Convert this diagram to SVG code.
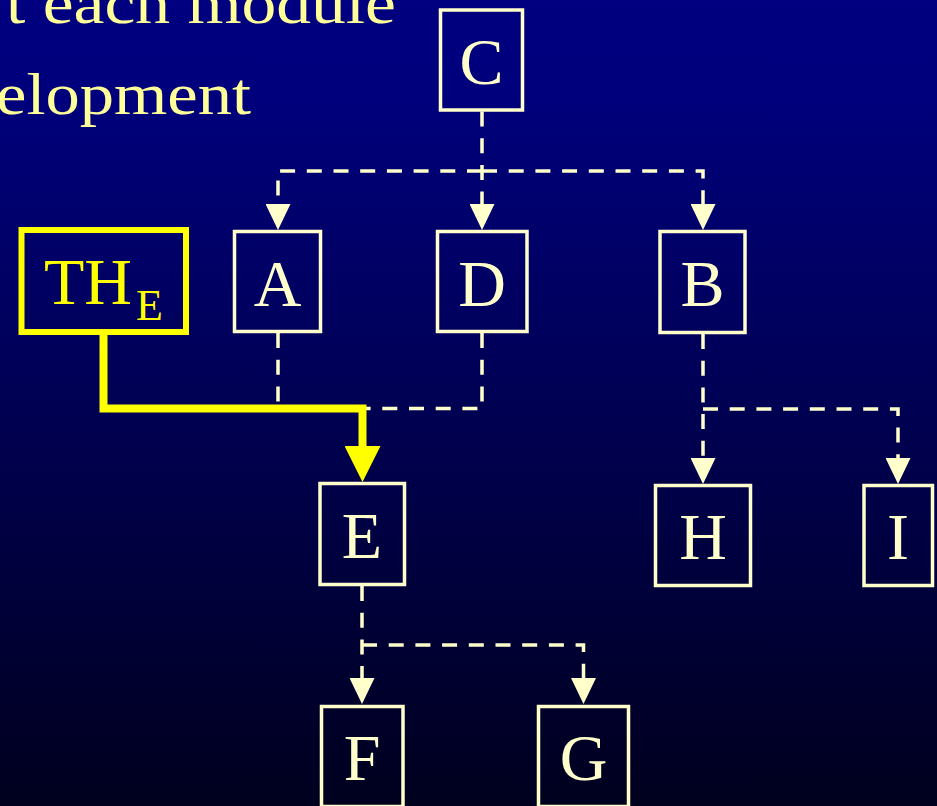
<svg xmlns="http://www.w3.org/2000/svg" width="937" height="806" viewBox="0 0 937 806">
  <defs>
    <linearGradient id="bg" x1="0" y1="0" x2="0" y2="1">
      <stop offset="0" stop-color="#000080"/>
      <stop offset="0.12" stop-color="#00007C"/>
      <stop offset="1" stop-color="#00001E"/>
    </linearGradient>
    <marker id="ah" markerUnits="userSpaceOnUse" viewBox="0 0 26 25" markerWidth="26" markerHeight="25" refX="0" refY="12.5" orient="auto">
      <path d="M0,0 L26,12.5 L0,25 Z" fill="#FFFFCC" stroke="none"/>
    </marker>
    <marker id="ahy" markerUnits="userSpaceOnUse" viewBox="0 0 36 36" markerWidth="36" markerHeight="36" refX="0" refY="18" orient="auto">
      <path d="M0,0 L36,18 L0,36 Z" fill="#FFFF00" stroke="none"/>
    </marker>
  </defs>
  <style>
    .box { fill: none; stroke: #FFFFCC; stroke-width: 3.5; }
    .lbl { font-family: "Liberation Serif", "Times New Roman", serif; font-size: 66px; fill: #FFFFCC; text-anchor: middle; }
    .head { font-family: "Liberation Serif", "Times New Roman", serif; font-size: 59px; fill: #FFFF99; }
    .dash { fill: none; stroke: #FFFFCC; stroke-width: 3.5; stroke-dasharray: 15 11.7; }
    .arr { marker-end: url(#ah); }
  </style>
  <rect x="0" y="0" width="937" height="806" fill="url(#bg)"/>

  <g id="heading">
    <text class="head" x="6" y="23" textLength="390" lengthAdjust="spacingAndGlyphs">t each module</text>
    <text class="head" x="-4" y="114" textLength="255" lengthAdjust="spacingAndGlyphs">elopment</text>
  </g>

  <g id="connectors">
    <path class="dash arr" d="M482,111.5 V204"/>
    <path class="dash arr" d="M482,171 H278 V204"/>
    <path class="dash arr" d="M482,171 H703 V204"/>
    <path class="dash" d="M278,333 V405"/>
    <path class="dash" d="M482,333 V408.5 H366"/>
    <path class="dash arr" d="M703,334 V458"/>
    <path class="dash arr" d="M703,409 H898 V458"/>
    <path class="dash arr" d="M362,586 V678"/>
    <path class="dash arr" d="M362,645 H583.5 V678"/>
    <path d="M103.5,333 V408.5 H362.5 V446" fill="none" stroke="#FFFF00" stroke-width="8" stroke-linejoin="miter" marker-end="url(#ahy)"/>
  </g>

  <g id="node-C">
    <rect class="box" x="440.5" y="10" width="82" height="100"/>
    <text class="lbl" x="481.5" y="84">C</text>
  </g>
  <g id="node-TH_E">
    <rect x="21.5" y="230" width="164.5" height="102" fill="none" stroke="#FFFF00" stroke-width="6"/>
    <text x="44" y="304" font-family="'Liberation Serif', 'Times New Roman', serif" font-size="66" fill="#FFFF00">TH<tspan font-size="44" dx="4" dy="16">E</tspan></text>
  </g>
  <g id="node-A">
    <rect class="box" x="234.5" y="231.5" width="86" height="100"/>
    <text class="lbl" x="277.5" y="306">A</text>
  </g>
  <g id="node-D">
    <rect class="box" x="437.5" y="231.5" width="89.5" height="100"/>
    <text class="lbl" x="482" y="306">D</text>
  </g>
  <g id="node-B">
    <rect class="box" x="660" y="231.5" width="85" height="101"/>
    <text class="lbl" x="702.5" y="306">B</text>
  </g>
  <g id="node-E">
    <rect class="box" x="320" y="483.5" width="84.5" height="101"/>
    <text class="lbl" x="362" y="558">E</text>
  </g>
  <g id="node-H">
    <rect class="box" x="655.5" y="485.5" width="95" height="100"/>
    <text class="lbl" x="703" y="559">H</text>
  </g>
  <g id="node-I">
    <rect class="box" x="864" y="485.5" width="68.5" height="100"/>
    <text class="lbl" x="898" y="559">I</text>
  </g>
  <g id="node-F">
    <rect class="box" x="321.5" y="706.5" width="81.5" height="100"/>
    <text class="lbl" x="362" y="780">F</text>
  </g>
  <g id="node-G">
    <rect class="box" x="538.5" y="706.5" width="90" height="100"/>
    <text class="lbl" x="583.5" y="780">G</text>
  </g>
</svg>
